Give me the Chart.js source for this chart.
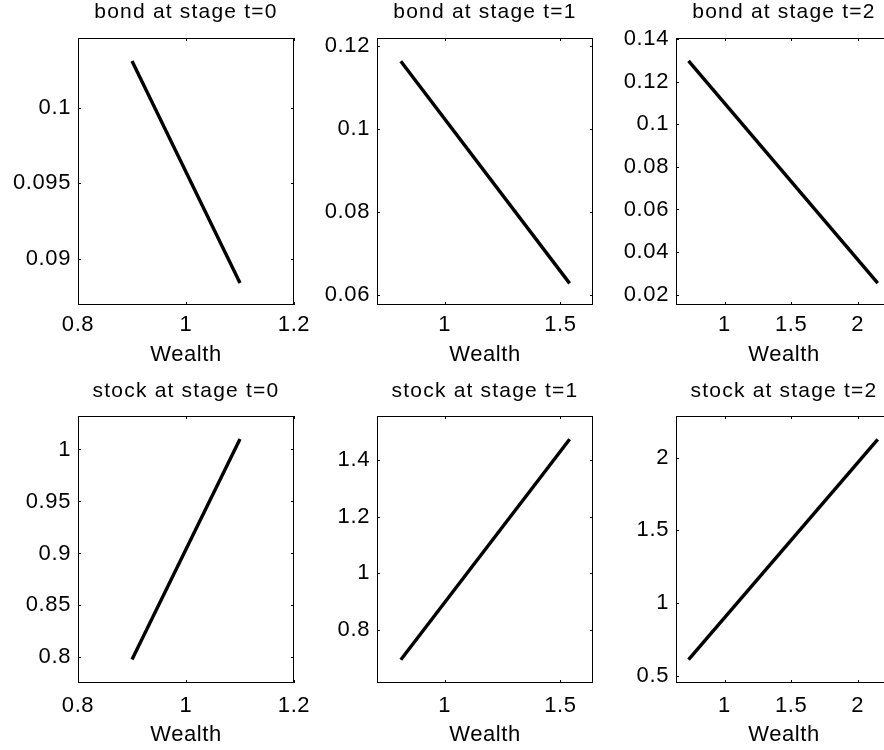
<!DOCTYPE html>
<html>
<head>
<meta charset="utf-8">
<script src="https://cdn.jsdelivr.net/npm/chart.js@4"></script>
<style>
  html, body { margin: 0; padding: 0; background: #fff; overflow: hidden; }
  #fig { position: relative; width: 884px; height: 750px; }
  #fig canvas { position: absolute; }
</style>
</head>
<body>
<div id="fig"></div>
<script>
// Wealth grid at each stage
const wealthT0 = [0.9, 1.1];
const wealthT1 = [0.81, 1.54];
const wealthT2 = [0.73, 2.15];

// Optimal bond holding per stage
const bondT0 = [0.1031, 0.0884];
const bondT1 = [0.1163, 0.0629];
const bondT2 = [0.1297, 0.0255];

// Optimal stock holding per stage
const stockT0 = [0.798, 1.010];
const stockT1 = [0.694, 1.474];
const stockT2 = [0.61, 2.126];

// Tick values
const xTicksT0 = [0.8, 1, 1.2];
const xTicksT1 = [1, 1.5];
const xTicksT2 = [1, 1.5, 2];
const yTicksBondT0 = [0.09, 0.095, 0.1];
const yTicksBondT1 = [0.06, 0.08, 0.1, 0.12];
const yTicksBondT2 = [0.02, 0.04, 0.06, 0.08, 0.1, 0.12, 0.14];
const yTicksStockT0 = [0.8, 0.85, 0.9, 0.95, 1];
const yTicksStockT1 = [0.8, 1, 1.2, 1.4];
const yTicksStockT2 = [0.5, 1, 1.5, 2];

// Axis limits
const xLimT0 = [0.8, 1.2];
const xLimT1 = [0.707, 1.641];
const xLimT2 = [0.636, 2.257];
const yLimBondT0 = [0.08695, 0.10462];
const yLimBondT1 = [0.0577, 0.1219];
const yLimBondT2 = [0.0152, 0.1404];
const yLimStockT0 = [0.7754, 1.0322];
const yLimStockT1 = [0.6118, 1.5564];
const yLimStockT2 = [0.45, 2.286];

const titles = [
  'bond at stage t=0', 'bond at stage t=1', 'bond at stage t=2',
  'stock at stage t=0', 'stock at stage t=1', 'stock at stage t=2'
];
const xLabel = 'Wealth';

const FONT = '"Liberation Sans", Arial, Helvetica, sans-serif';

// Layout of the 2x3 grid (plot box geometry)
const SIDE = 75;          // room left/right of each box
const BOX_W = 216;
const BOX_H = 267;
const TITLE_H = 38;
const TITLE_SIZE = 21;
const TITLE_LH = 1.1;
const colLeft = [78, 377, 676];
const rowTop = [38, 416];
const rowBottomRoom = [63, 65];
const rowTickPad = [7, 9.5];
const rowTitlePad = [0.5, 1.2];

const panels = [
  { wealth: wealthT0, vals: bondT0,  xl: xLimT0, yl: yLimBondT0,  xt: xTicksT0, yt: yTicksBondT0 },
  { wealth: wealthT1, vals: bondT1,  xl: xLimT1, yl: yLimBondT1,  xt: xTicksT1, yt: yTicksBondT1 },
  { wealth: wealthT2, vals: bondT2,  xl: xLimT2, yl: yLimBondT2,  xt: xTicksT2, yt: yTicksBondT2 },
  { wealth: wealthT0, vals: stockT0, xl: xLimT0, yl: yLimStockT0, xt: xTicksT0, yt: yTicksStockT0 },
  { wealth: wealthT1, vals: stockT1, xl: xLimT1, yl: yLimStockT1, xt: xTicksT1, yt: yTicksStockT1 },
  { wealth: wealthT2, vals: stockT2, xl: xLimT2, yl: yLimStockT2, xt: xTicksT2, yt: yTicksStockT2 }
];

// Closed axes box with inward tick marks on all four sides
const framePlugin = {
  id: 'frame',
  beforeDraw(chart) {
    chart.ctx.letterSpacing = '0.6px';
    const tb = chart.titleBlock;
    if (tb && !tb.__spaced) {
      const draw = tb.draw;
      tb.draw = function () {
        const c = this.ctx;
        const prev = c.letterSpacing;
        c.letterSpacing = '1.2px';
        draw.apply(this, arguments);
        c.letterSpacing = prev;
      };
      tb.__spaced = true;
    }
  },
  afterDatasetsDraw(chart) {
    const { ctx, chartArea: a, scales } = chart;
    const tl = 3;
    ctx.save();
    ctx.strokeStyle = '#000';
    ctx.lineWidth = 1;
    ctx.strokeRect(a.left + 0.5, a.top + 0.5, a.right - a.left - 1, a.bottom - a.top - 1);
    ctx.beginPath();
    scales.x.ticks.forEach(t => {
      const px = Math.round(scales.x.getPixelForValue(t.value)) + 0.5;
      ctx.moveTo(px, a.bottom); ctx.lineTo(px, a.bottom - tl);
      ctx.moveTo(px, a.top);    ctx.lineTo(px, a.top + tl);
    });
    scales.y.ticks.forEach(t => {
      const py = Math.round(scales.y.getPixelForValue(t.value)) + 0.5;
      ctx.moveTo(a.left, py);  ctx.lineTo(a.left + tl, py);
      ctx.moveTo(a.right, py); ctx.lineTo(a.right - tl, py);
    });
    ctx.stroke();
    ctx.restore();
  }
};

const fig = document.getElementById('fig');

panels.forEach((p, i) => {
  const row = Math.floor(i / 3);
  const col = i % 3;
  const bottomRoom = rowBottomRoom[row];
  const cw = SIDE + BOX_W + SIDE;
  const ch = TITLE_H + BOX_H + bottomRoom;
  const titleLinePx = TITLE_SIZE * TITLE_LH;
  const padTop = rowTitlePad[row];

  const canvas = document.createElement('canvas');
  canvas.width = cw;
  canvas.height = ch;
  canvas.style.left = (colLeft[col] - SIDE) + 'px';
  canvas.style.top = (rowTop[row] - TITLE_H) + 'px';
  canvas.style.width = cw + 'px';
  canvas.style.height = ch + 'px';
  fig.appendChild(canvas);

  const xTickVals = p.xt;
  const yTickVals = p.yt;

  new Chart(canvas, {
    type: 'scatter',
    data: {
      datasets: [{
        data: p.wealth.map((w, k) => ({ x: w, y: p.vals[k] })),
        showLine: true,
        borderColor: '#000',
        borderWidth: 3.4,
        pointRadius: 0,
        pointHoverRadius: 0,
        fill: false,
        tension: 0
      }]
    },
    options: {
      responsive: false,
      animation: false,
      devicePixelRatio: 1,
      layout: { padding: 0 },
      events: [],
      plugins: {
        legend: { display: false },
        tooltip: { enabled: false },
        title: {
          display: true,
          text: titles[i],
          color: '#000',
          font: { family: FONT, size: TITLE_SIZE, weight: 'normal', lineHeight: TITLE_LH },
          padding: { top: padTop, bottom: TITLE_H - padTop - titleLinePx }
        }
      },
      scales: {
        x: {
          type: 'linear',
          position: 'bottom',
          min: p.xl[0],
          max: p.xl[1],
          afterBuildTicks: s => { s.ticks = xTickVals.map(v => ({ value: v })); },
          afterFit: s => { s.height = bottomRoom; },
          grid: { display: false, drawTicks: false },
          border: { display: false },
          ticks: {
            autoSkip: false,
            maxRotation: 0,
            minRotation: 0,
            padding: rowTickPad[row],
            color: '#000',
            font: { family: FONT, size: 22, lineHeight: 1.2 },
            callback: v => String(v)
          },
          title: {
            display: true,
            text: xLabel,
            color: '#000',
            padding: 0,
            font: { family: FONT, size: 22, lineHeight: 1.2 }
          }
        },
        y: {
          type: 'linear',
          position: 'left',
          min: p.yl[0],
          max: p.yl[1],
          afterBuildTicks: s => { s.ticks = yTickVals.map(v => ({ value: v })); },
          afterFit: s => { s.width = SIDE; },
          grid: { display: false, drawTicks: false },
          border: { display: false },
          ticks: {
            autoSkip: false,
            padding: 7,
            color: '#000',
            font: { family: FONT, size: 22, lineHeight: 1.2 },
            callback: v => String(v)
          }
        },
        yr: {
          type: 'linear',
          position: 'right',
          display: true,
          afterFit: s => { s.width = SIDE; },
          grid: { display: false, drawTicks: false },
          border: { display: false },
          ticks: { display: false }
        }
      }
    },
    plugins: [framePlugin]
  });
});
</script>
</body>
</html>
